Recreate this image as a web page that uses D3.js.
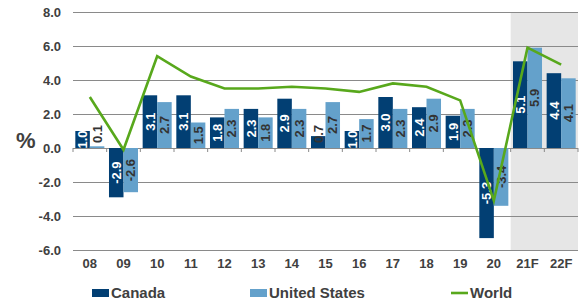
<!DOCTYPE html>
<html>
<head>
<meta charset="utf-8">
<script src="https://cdn.jsdelivr.net/npm/d3@7"></script>
<style>
  body { margin: 0; background: #fff; }
  svg { display: block; font-family: "Liberation Sans", Arial, sans-serif; }
</style>
</head>
<body>
<svg width="587" height="303"></svg>
<script>
const YEARS = ["08", "09", "10", "11", "12", "13", "14", "15", "16", "17", "18", "19", "20", "21F", "22F"];
const CANADA = [1.0, -2.9, 3.1, 3.1, 1.8, 2.3, 2.9, 0.7, 1.0, 3.0, 2.4, 1.9, -5.3, 5.1, 4.4];
const USA = [0.1, -2.6, 2.7, 1.5, 2.3, 1.8, 2.3, 2.7, 1.7, 2.3, 2.9, 2.3, -3.4, 5.9, 4.1];
const WORLD = [3.0, -0.1, 5.4, 4.2, 3.5, 3.5, 3.6, 3.5, 3.3, 3.8, 3.6, 2.8, -3.1, 5.9, 4.9];
const FORECAST = ["21F", "22F"];
const Y_TICKS = [-6, -4, -2, 0, 2, 4, 6, 8];

const SERIES = [
  { key: "Canada", values: CANADA, color: "#023f73", text: "#fff" },
  { key: "United States", values: USA, color: "#64a1cb", text: "#333" },
];

const LEFT = 73, RIGHT = 578, TOP = 12, BOTTOM = 250;

// plain hyphen for negatives, like the original
const fmt = (v) => v.toFixed(1);

const xScale = d3.scaleBand().domain(YEARS).range([LEFT, RIGHT]);
const subScale = d3
  .scaleBand()
  .domain(SERIES.map((s) => s.key))
  .range([0, xScale.bandwidth()])
  .paddingOuter(0.16);
const yScale = d3.scaleLinear().domain([-6, 8]).range([BOTTOM, TOP]);

const svg = d3.select("svg");

// forecast shading
svg
  .append("rect")
  .attr("x", xScale(FORECAST[0]))
  .attr("y", TOP)
  .attr("width", RIGHT - xScale(FORECAST[0]))
  .attr("height", BOTTOM - TOP)
  .attr("fill", "#e6e6e6");

// y axis gridlines + labels
const yAxis = d3
  .axisLeft(yScale)
  .tickValues(Y_TICKS)
  .tickFormat(fmt)
  .tickSize(-(RIGHT - LEFT))
  .tickPadding(12);

svg
  .append("g")
  .attr("transform", `translate(${LEFT},0)`)
  .call(yAxis)
  .call((g) => g.select(".domain").remove())
  .call((g) => g.selectAll("line").attr("stroke", "#8a8a8a"))
  .call((g) =>
    g
      .selectAll("text")
      .attr("fill", "#404040")
      .attr("font-size", 13)
      .attr("font-weight", "bold")
      .attr("font-family", "Liberation Sans, Arial, sans-serif")
  );

svg
  .append("text")
  .attr("x", 16)
  .attr("y", 148)
  .attr("font-size", 22)
  .attr("font-weight", "bold")
  .attr("fill", "#404040")
  .text("%");

// bars
const groups = svg
  .selectAll(".year")
  .data(YEARS)
  .enter()
  .append("g")
  .classed("year", true)
  .attr("transform", (d) => `translate(${xScale(d)},0)`);

SERIES.forEach((s) => {
  groups
    .append("rect")
    .attr("x", subScale(s.key))
    .attr("width", subScale.bandwidth())
    .attr("y", (d, i) => yScale(Math.max(0, s.values[i])))
    .attr("height", (d, i) => Math.abs(yScale(s.values[i]) - yScale(0)))
    .attr("fill", s.color);
});

// zero axis ticks (category boundaries)
const bounds = YEARS.map((d) => xScale(d)).concat([RIGHT]);
svg
  .append("g")
  .selectAll("line")
  .data(bounds)
  .enter()
  .append("line")
  .attr("x1", (d) => d)
  .attr("x2", (d) => d)
  .attr("y1", yScale(0))
  .attr("y2", yScale(0) + 4)
  .attr("stroke", "#8a8a8a");

// value labels, rotated; centred in bar, lifted off the base when the bar is tiny
const HALF_LABEL = 9;
const tiny = (v) => Math.abs(v) < 0.8;
SERIES.forEach((s) => {
  groups
    .append("text")
    .attr("transform", (d, i) => {
      const v = s.values[i];
      const cx = subScale(s.key) + subScale.bandwidth() / 2;
      let cy = (yScale(v) + yScale(0)) / 2;
      if (tiny(v)) cy = Math.min(cy, yScale(0) - 5 - HALF_LABEL);
      return `translate(${cx},${cy}) rotate(-90)`;
    })
    .attr("text-anchor", "middle")
    .attr("dy", "0.36em")
    .attr("font-size", 13)
    .attr("font-weight", "bold")
    .attr("fill", (d, i) => (tiny(s.values[i]) ? "#333" : s.text))
    .text((d, i) => fmt(s.values[i]));
});

// world line
const line = d3
  .line()
  .x((d, i) => xScale(YEARS[i]) + xScale.bandwidth() / 2)
  .y((d) => yScale(d));

svg
  .append("path")
  .datum(WORLD)
  .attr("d", line)
  .attr("fill", "none")
  .attr("stroke", "#58a81c")
  .attr("stroke-width", 2.6);

// x labels
svg
  .append("g")
  .selectAll("text")
  .data(YEARS)
  .enter()
  .append("text")
  .attr("x", (d) => xScale(d) + xScale.bandwidth() / 2)
  .attr("y", 268)
  .attr("text-anchor", "middle")
  .attr("font-size", 13)
  .attr("font-weight", "bold")
  .attr("fill", "#404040")
  .text((d) => d);

// legend
const legend = svg.append("g").attr("font-size", 15).attr("font-weight", "bold").attr("fill", "#404040");
legend.append("rect").attr("x", 92).attr("y", 289).attr("width", 17).attr("height", 8).attr("fill", SERIES[0].color);
legend.append("text").attr("x", 111).attr("y", 298).text("Canada");
legend.append("rect").attr("x", 250).attr("y", 289).attr("width", 17).attr("height", 8).attr("fill", SERIES[1].color);
legend.append("text").attr("x", 269).attr("y", 298).text("United States");
legend.append("line").attr("x1", 451).attr("x2", 468).attr("y1", 293).attr("y2", 293).attr("stroke", "#58a81c").attr("stroke-width", 2.6);
legend.append("text").attr("x", 470).attr("y", 298).text("World");
</script>
</body>
</html>
